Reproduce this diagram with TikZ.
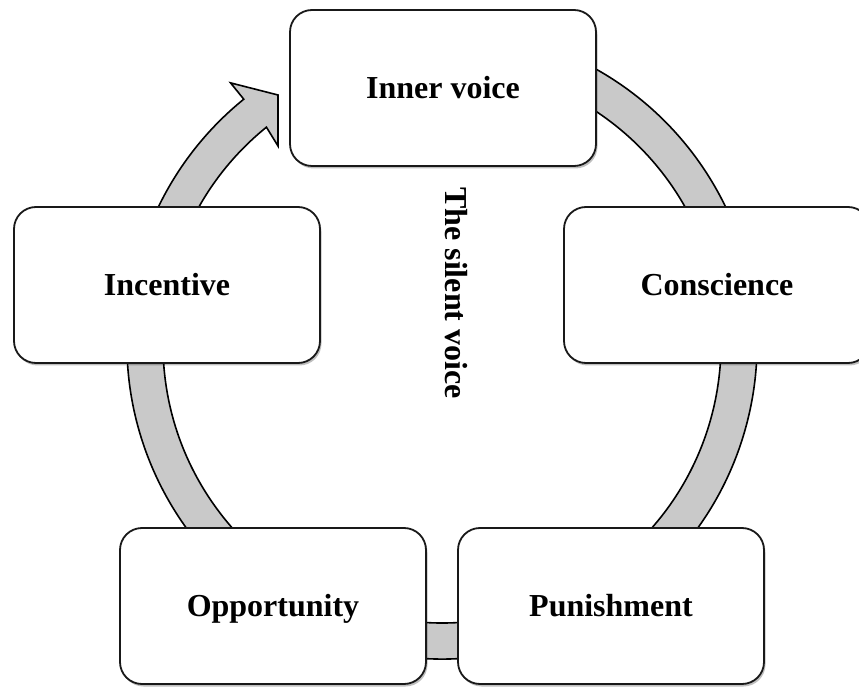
\documentclass[tikz,border=0pt]{standalone}
\usepackage{fontspec}
\setmainfont{Liberation Serif}
\usetikzlibrary{calc,shadows}

\definecolor{bandgray}{RGB}{201,201,201}
\definecolor{edge}{RGB}{25,25,25}

\tikzset{
  cyclebox/.style={
    draw=edge, line width=1.8pt, fill=white, rounded corners=22pt,
    minimum width=306pt, minimum height=156pt, inner sep=0pt,
    text height=21.5pt, text depth=0pt,
    font=\fontsize{32}{38}\selectfont\bfseries,
    drop shadow={shadow xshift=1.5pt, shadow yshift=-2.5pt, opacity=0.25, fill=black}
  },
  band/.style={draw=black, line width=1.6pt, fill=bandgray, line join=miter},
  caption/.style={font=\fontsize{32}{38}\selectfont\bfseries, inner sep=0pt}
}

\begin{document}
\begin{tikzpicture}[x=1pt, y=1pt]
  \useasboundingbox (0,0) rectangle (859,686);

  % centre of the circular band
  \coordinate (C) at (442,342);

  % circular band with its arrow head ending just before the top box
  \draw[band]
    ($(C)+(75:315)$) arc[start angle=75, end angle=-231, radius=315]
    -- ($(C)+(129:336)$)
    -- (278,591) -- (278,540)
    -- ($(C)+(129:279)$)
    arc[start angle=-231, end angle=75, radius=279]
    -- cycle;

  % the five stages
  \node[cyclebox] (inner)   at (443,598) {Inner voice};
  \node[cyclebox] (consc)   at (717,401) {Conscience};
  \node[cyclebox] (punish)  at (611,80)  {Punishment};
  \node[cyclebox] (opport)  at (273,80)  {Opportunity};
  \node[cyclebox] (incent)  at (167,401) {Incentive};

  % vertical caption in the middle
  \node[caption, rotate=-90] (silent) at (456,393) {The silent voice};
\end{tikzpicture}
\end{document}
